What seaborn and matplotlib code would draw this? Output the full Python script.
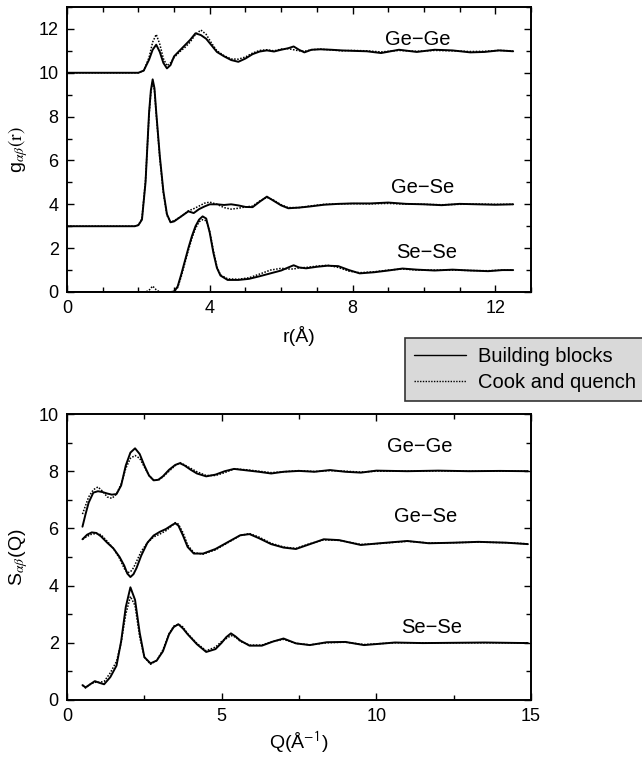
import numpy as np
import pandas as pd
import matplotlib
matplotlib.use("Agg")
import matplotlib.pyplot as plt
from matplotlib.lines import Line2D
from matplotlib.ticker import MultipleLocator
import seaborn as sns

# ---------------- data: g(r) ----------------
r_GeGe = [0, 2.0, 2.15, 2.3, 2.4, 2.5, 2.6, 2.7, 2.8, 2.9, 3.0, 3.15, 3.3, 3.45, 3.6, 3.75, 3.9, 4.05, 4.2,
          4.4, 4.6, 4.8, 5.0, 5.2, 5.4, 5.6, 5.8, 6.0, 6.2, 6.35, 6.5, 6.65, 6.85, 7.1, 7.4, 7.7, 8.0, 8.4,
          8.8, 9.3, 9.8, 10.3, 10.8, 11.3, 11.7, 12.1, 12.5]
g_GeGe_bb = [10.0, 10.0, 10.1, 10.6, 11.05, 11.28, 10.95, 10.45, 10.2, 10.35, 10.75, 11.0, 11.25, 11.5, 11.8,
             11.72, 11.55, 11.25, 10.95, 10.75, 10.58, 10.5, 10.65, 10.85, 10.97, 11.02, 10.97, 11.05, 11.12,
             11.2, 11.05, 10.93, 11.05, 11.07, 11.05, 11.02, 11.0, 10.98, 10.9, 11.05, 10.95, 11.05, 11.02,
             10.93, 10.95, 11.02, 10.98]
g_GeGe_cq = [10.0, 10.0, 10.1, 10.7, 11.4, 11.75, 11.3, 10.65, 10.32, 10.45, 10.7, 10.95, 11.15, 11.4, 11.75,
             11.95, 11.75, 11.35, 11.0, 10.78, 10.63, 10.62, 10.72, 10.9, 11.02, 11.05, 11.0, 11.08, 11.1,
             11.05, 11.0, 10.98, 11.05, 11.08, 11.04, 11.0, 11.02, 11.0, 10.95, 11.02, 10.98, 11.02, 11.0,
             10.97, 10.98, 11.02, 11.0]

r_GeSe = [0, 1.9, 2.0, 2.1, 2.2, 2.3, 2.35, 2.4, 2.45, 2.5, 2.55, 2.6, 2.7, 2.8, 2.9, 3.0, 3.2, 3.4, 3.55,
          3.7, 3.85, 4.0, 4.2, 4.4, 4.6, 4.8, 5.0, 5.2, 5.4, 5.6, 5.8, 6.0, 6.2, 6.5, 6.8, 7.2, 7.6, 8.0,
          8.5, 9.0, 9.5, 10.0, 10.5, 11.0, 11.5, 12.0, 12.5]
g_GeSe_bb = [3.0, 3.0, 3.05, 3.3, 5.0, 8.2, 9.2, 9.7, 9.3, 8.2, 7.2, 6.2, 4.6, 3.55, 3.18, 3.22, 3.45, 3.68,
             3.6, 3.78, 3.9, 4.0, 4.0, 3.97, 4.0, 3.95, 3.88, 3.87, 4.12, 4.35, 4.15, 3.95, 3.82, 3.85, 3.9,
             3.98, 4.02, 4.04, 4.04, 4.08, 4.02, 4.0, 3.96, 4.02, 4.0, 3.98, 4.0]
g_GeSe_cq = [3.0, 3.0, 3.05, 3.35, 5.1, 8.1, 9.1, 9.6, 9.2, 8.1, 7.1, 6.1, 4.5, 3.5, 3.2, 3.25, 3.45, 3.7,
             3.8, 3.92, 4.05, 4.1, 4.0, 3.85, 3.78, 3.82, 3.88, 3.92, 4.15, 4.32, 4.18, 3.98, 3.85, 3.85,
             3.92, 4.0, 4.02, 4.03, 4.02, 4.04, 4.01, 4.0, 3.98, 4.0, 4.01, 4.0, 4.0]

r_SeSe = [0, 2.2, 2.3, 2.4, 2.5, 2.6, 2.9, 3.0, 3.1, 3.2, 3.3, 3.4, 3.5, 3.6, 3.7, 3.8, 3.9, 4.0, 4.1, 4.2,
          4.3, 4.5, 4.8, 5.1, 5.4, 5.7, 6.0, 6.2, 6.35, 6.5, 6.7, 7.0, 7.3, 7.6, 7.9, 8.2, 8.6, 9.0, 9.4,
          9.8, 10.3, 10.8, 11.3, 11.8, 12.2, 12.5]
g_SeSe_bb = [0, 0, 0, 0, 0, 0, 0, 0.02, 0.25, 0.8, 1.4, 2.0, 2.55, 3.0, 3.3, 3.45, 3.35, 2.7, 1.8, 1.1,
             0.75, 0.55, 0.55, 0.6, 0.72, 0.85, 0.98, 1.12, 1.22, 1.12, 1.08, 1.15, 1.2, 1.18, 1.0, 0.85,
             0.9, 0.98, 1.07, 1.02, 0.98, 1.02, 0.98, 0.95, 1.0, 1.0]
g_SeSe_cq = [0, 0, 0.08, 0.27, 0.1, 0, 0, 0.02, 0.2, 0.7, 1.3, 1.9, 2.45, 2.9, 3.2, 3.3, 3.25, 2.75, 1.9,
             1.15, 0.78, 0.6, 0.58, 0.65, 0.82, 1.0, 1.08, 1.05, 1.05, 1.1, 1.12, 1.18, 1.22, 1.12, 0.95,
             0.88, 0.92, 1.0, 1.05, 1.0, 1.0, 1.0, 0.98, 0.97, 1.0, 1.0]

# ---------------- data: S(Q) ----------------
Q_GeGe = [0.5, 0.6, 0.7, 0.85, 1.0, 1.15, 1.3, 1.45, 1.6, 1.75, 1.9, 2.05, 2.2, 2.35, 2.5, 2.65, 2.8, 2.95,
          3.1, 3.3, 3.5, 3.65, 3.8, 4.0, 4.2, 4.5, 4.8, 5.1, 5.4, 5.8, 6.2, 6.6, 7.0, 7.5, 8.0, 8.5, 9.0,
          9.5, 10.0, 11.0, 12.0, 13.0, 14.0, 14.9]
S_GeGe_bb = [6.06, 6.5, 6.9, 7.25, 7.3, 7.27, 7.22, 7.18, 7.2, 7.5, 8.2, 8.65, 8.8, 8.6, 8.2, 7.85, 7.68,
             7.7, 7.82, 8.05, 8.22, 8.28, 8.2, 8.05, 7.92, 7.82, 7.88, 8.0, 8.08, 8.03, 7.98, 7.92, 7.98,
             8.01, 7.98, 8.04, 7.98, 7.95, 8.02, 8.0, 8.02, 8.0, 8.01, 8.0]
S_GeGe_cq = [6.5, 6.8, 7.1, 7.35, 7.45, 7.3, 7.1, 7.05, 7.2, 7.55, 8.1, 8.45, 8.55, 8.45, 8.15, 7.85, 7.7,
             7.68, 7.8, 8.0, 8.2, 8.3, 8.22, 8.1, 7.98, 7.85, 7.85, 7.95, 8.08, 8.05, 8.0, 7.95, 7.98, 8.02,
             7.99, 8.02, 8.0, 7.97, 8.0, 8.0, 8.01, 8.0, 8.0, 8.0]

Q_GeSe = [0.5, 0.65, 0.8, 0.95, 1.1, 1.3, 1.5, 1.7, 1.85, 1.95, 2.05, 2.15, 2.25, 2.4, 2.6, 2.8, 3.0, 3.2,
          3.4, 3.5, 3.6, 3.75, 3.9, 4.1, 4.4, 4.8, 5.2, 5.6, 5.9, 6.2, 6.6, 7.0, 7.4, 7.8, 8.3, 8.8, 9.5,
          10.1, 11.0, 11.7, 12.5, 13.3, 14.2, 14.9]
S_GeSe_bb = [5.62, 5.78, 5.86, 5.84, 5.72, 5.5, 5.3, 5.0, 4.7, 4.42, 4.3, 4.4, 4.62, 5.05, 5.5, 5.75, 5.88,
             5.98, 6.12, 6.18, 6.1, 5.75, 5.35, 5.12, 5.12, 5.28, 5.52, 5.76, 5.8, 5.66, 5.45, 5.33, 5.28,
             5.43, 5.62, 5.59, 5.42, 5.48, 5.56, 5.48, 5.5, 5.53, 5.5, 5.45]
S_GeSe_cq = [5.62, 5.72, 5.8, 5.82, 5.78, 5.55, 5.3, 4.95, 4.6, 4.45, 4.48, 4.62, 4.85, 5.2, 5.5, 5.7, 5.8,
             5.92, 6.1, 6.2, 6.15, 5.85, 5.42, 5.15, 5.1, 5.25, 5.5, 5.75, 5.82, 5.7, 5.48, 5.35, 5.3, 5.45,
             5.6, 5.58, 5.44, 5.47, 5.55, 5.49, 5.5, 5.52, 5.5, 5.46]

Q_SeSe = [0.5, 0.6, 0.75, 0.9, 1.05, 1.2, 1.4, 1.6, 1.75, 1.9, 2.05, 2.2, 2.35, 2.5, 2.7, 2.9, 3.1, 3.3,
          3.45, 3.6, 3.75, 3.9, 4.2, 4.5, 4.8, 5.0, 5.15, 5.3, 5.45, 5.6, 5.9, 6.3, 6.65, 7.0, 7.4, 7.85,
          8.4, 9.0, 9.6, 10.6, 11.5, 12.5, 13.5, 14.9]
S_SeSe_bb = [0.52, 0.44, 0.55, 0.66, 0.6, 0.55, 0.8, 1.2, 2.05, 3.25, 3.94, 3.5, 2.35, 1.5, 1.28, 1.38, 1.7,
             2.3, 2.55, 2.65, 2.5, 2.3, 1.95, 1.68, 1.78, 2.0, 2.2, 2.33, 2.22, 2.08, 1.9, 1.9, 2.04, 2.15,
             1.98, 1.92, 2.02, 2.03, 1.92, 2.01, 1.99, 2.0, 2.01, 1.99]
S_SeSe_cq = [0.52, 0.42, 0.55, 0.62, 0.62, 0.65, 0.95, 1.35, 2.0, 3.0, 3.62, 3.3, 2.2, 1.5, 1.25, 1.38, 1.75,
             2.32, 2.58, 2.65, 2.55, 2.32, 1.98, 1.72, 1.85, 2.05, 2.15, 2.25, 2.2, 2.05, 1.92, 1.92, 2.05,
             2.12, 1.98, 1.93, 2.0, 2.02, 1.94, 2.0, 2.0, 2.0, 2.0, 2.0]

pair_labels = ["Ge\u2212Ge", "Ge\u2212Se", "Se\u2212Se"]
legend_labels = ["Building blocks", "Cook and quench"]

# ---------------- style ----------------
sns.set_theme(style="ticks")
plt.rcParams["font.family"] = ["Liberation Sans", "DejaVu Sans"]
plt.rcParams["mathtext.fontset"] = "stix"
plt.rcParams["text.color"] = "black"
plt.rcParams["axes.labelcolor"] = "black"
plt.rcParams["xtick.color"] = "black"
plt.rcParams["ytick.color"] = "black"

FS_TICK = 13
FS_LAB = 14
FS_TXT = 14.5
solid_kw = dict(color="black", linewidth=1.4, linestyle="-")
dot_kw = dict(color="black", linewidth=1.1, linestyle=(0, (1, 1)))

fig = plt.figure(figsize=(6.42, 7.58), dpi=100)
W, H = 642, 758
ax1 = fig.add_axes([67 / W, 1 - 292 / H, (531 - 67) / W, (292 - 7) / H])
ax2 = fig.add_axes([67 / W, 1 - 700 / H, (531 - 67) / W, (700 - 414) / H])


def draw(ax, x, y_bb, y_cq):
    sns.lineplot(x=x, y=y_cq, ax=ax, sort=False, estimator=None, **dot_kw)
    sns.lineplot(x=x, y=y_bb, ax=ax, sort=False, estimator=None, **solid_kw)


draw(ax1, r_GeGe, g_GeGe_bb, g_GeGe_cq)
draw(ax1, r_GeSe, g_GeSe_bb, g_GeSe_cq)
draw(ax1, r_SeSe, g_SeSe_bb, g_SeSe_cq)

draw(ax2, Q_GeGe, S_GeGe_bb, S_GeGe_cq)
draw(ax2, Q_GeSe, S_GeSe_bb, S_GeSe_cq)
draw(ax2, Q_SeSe, S_SeSe_bb, S_SeSe_cq)

ax1.set_xlim(0, 13)
ax1.set_ylim(0, 13)
ax1.xaxis.set_major_locator(MultipleLocator(4))
ax1.xaxis.set_minor_locator(MultipleLocator(1))
ax1.yaxis.set_major_locator(MultipleLocator(2))
ax1.yaxis.set_minor_locator(MultipleLocator(1))
ax1.set_xlabel("r(\u00c5)", fontsize=FS_LAB, labelpad=6)
ax1.set_ylabel(r"g$_{\alpha\beta}\mathrm{(r)}$", fontsize=FS_LAB, labelpad=6)

ax2.set_xlim(0, 15)
ax2.set_ylim(0, 10)
ax2.xaxis.set_major_locator(MultipleLocator(5))
ax2.xaxis.set_minor_locator(MultipleLocator(2.5))
ax2.yaxis.set_major_locator(MultipleLocator(2))
ax2.yaxis.set_minor_locator(MultipleLocator(1))
ax2.set_xlabel("Q(\u00c5" + r"$^{\mathsf{-1}}$)", fontsize=FS_LAB, labelpad=3)
ax2.set_ylabel(r"S$_{\alpha\beta}$(Q)", fontsize=FS_LAB, labelpad=6)

for ax in (ax1, ax2):
    for s in ax.spines.values():
        s.set_visible(True)
        s.set_linewidth(1.4)
        s.set_color("black")
    ax.tick_params(which="both", direction="in", top=True, right=True, labelsize=FS_TICK, width=1.0, pad=6)
    ax.tick_params(which="major", length=5)
    ax.tick_params(which="minor", length=3.5)

# pair labels
for (x, y), t in zip([(9.83, 11.5), (9.97, 4.75), (10.07, 1.78)], pair_labels):
    ax1.text(x, y, t, fontsize=FS_TXT, ha="center", va="center")
for (x, y), t in zip([(11.4, 8.88), (11.6, 6.43), (11.8, 2.55)], pair_labels):
    ax2.text(x, y, t, fontsize=FS_TXT, ha="center", va="center")

handles = [Line2D([], [], color="black", linewidth=1.0),
           Line2D([], [], color="black", linewidth=1.0, linestyle=(0, (1, 1)))]
leg = fig.legend(handles, legend_labels, loc="upper left", bbox_to_anchor=(405 / W, 1 - 338 / H),
                 fontsize=FS_TXT, frameon=True, fancybox=False, handlelength=2.6, handletextpad=0.55,
                 borderpad=0.45, labelspacing=0.35, borderaxespad=0)
frame = leg.get_frame()
frame.set_facecolor("#d9d9d9")
frame.set_edgecolor("#333333")
frame.set_linewidth(1.2)
frame.set_alpha(1)

fig.savefig("out.png", dpi=100)
